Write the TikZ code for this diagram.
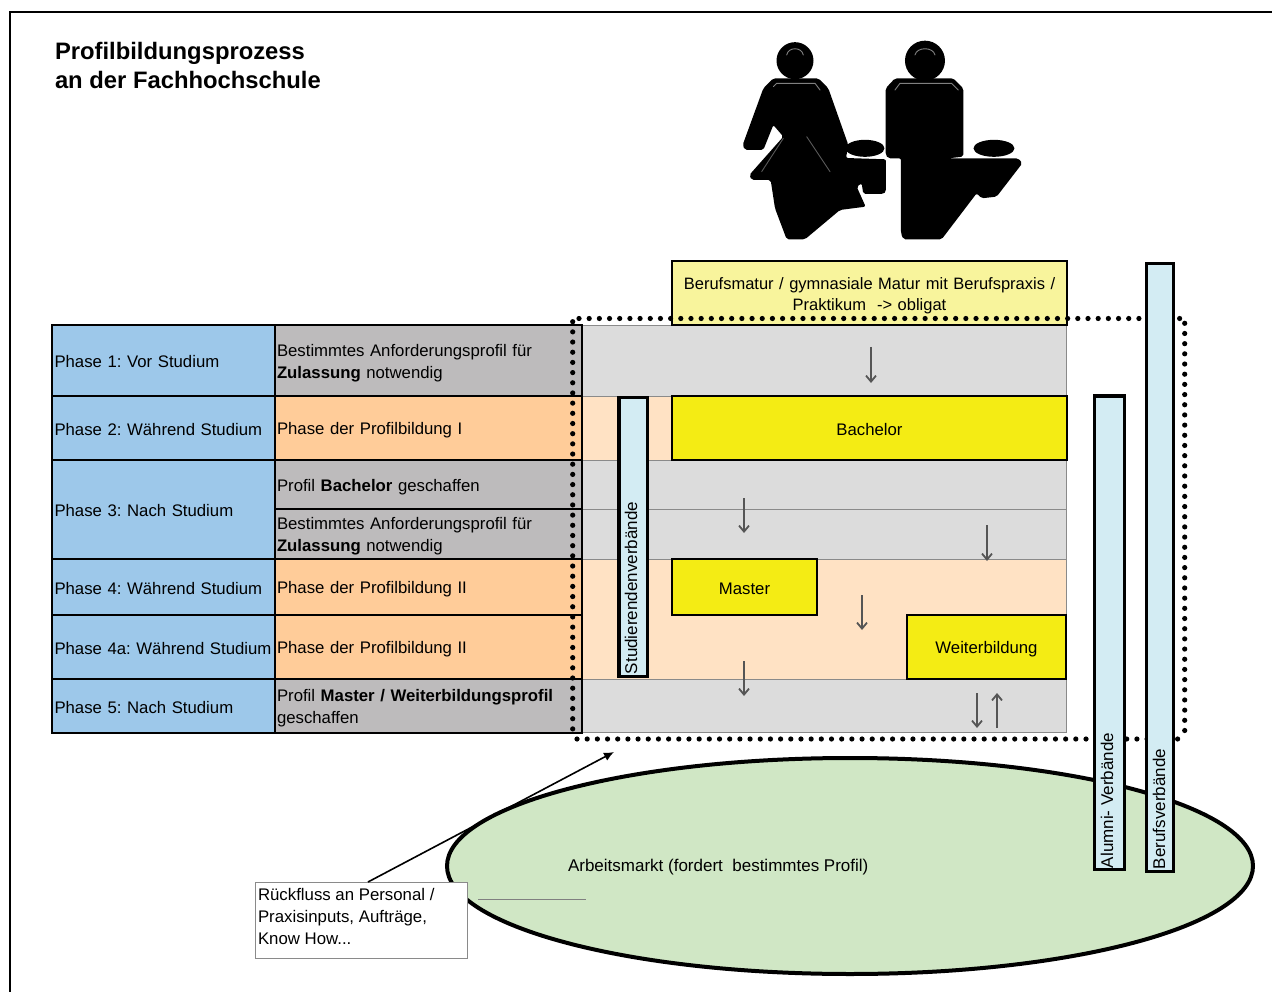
\documentclass[tikz,border=0pt]{standalone}
\usepackage{fontspec}
\setmainfont{Liberation Sans}
\usetikzlibrary{arrows.meta,shapes.geometric}
\definecolor{cblue}{HTML}{9DC8EA}
\definecolor{cgrey}{HTML}{BDBBBC}
\definecolor{corange}{HTML}{FFCC99}
\definecolor{cband}{HTML}{DCDCDC}
\definecolor{clight}{HTML}{FFE2C4}
\definecolor{cyellow}{HTML}{F4EC14}
\definecolor{cpale}{HTML}{F8F49C}
\definecolor{ccyan}{HTML}{D3ECF3}
\definecolor{cgreen}{HTML}{D0E7C5}
\definecolor{cedge}{HTML}{8A8A8A}
\definecolor{carrow}{HTML}{555555}
\frenchspacing
\newcommand{\topgap}{\rule{0pt}{17pt}}
\newcommand{\botgap}{\rule[-3pt]{0pt}{3pt}}
\tikzset{
  every node/.style={outer sep=0pt},
  cell/.style={draw=black,line width=2.2pt,anchor=north west,inner sep=2pt,align=left,font=\fontsize{16.75}{22}\selectfont,execute at begin node=\topgap,execute at end node=\botgap},
  band/.style={draw=cedge,line width=0.8pt,anchor=north west,inner sep=0pt},
  goal/.style={draw=black,line width=2.2pt,anchor=north west,fill=cyellow,inner sep=0pt,align=center,font=\fontsize{16.75}{22}\selectfont,execute at begin node=\topgap,execute at end node=\botgap},
  pillar/.style={draw=black,line width=3.2pt,anchor=north west,fill=ccyan,inner sep=0pt},
  vtext/.style={rotate=90,anchor=west,font=\fontsize{17}{20}\selectfont,inner sep=0pt},
  flow/.style={draw=carrow,line width=1.8pt,-{Straight Barb[length=6pt,width=10pt]}},
  ring/.style={line width=5.2pt,dash pattern=on 0pt off 10.18pt,line cap=round},
  sil/.style={fill=black,draw=none},
  gloss/.style={draw=gray,line width=0.9pt,line cap=round},
  softgloss/.style={draw=black!65,line width=0.9pt,line cap=round},
  bluecell/.style={cell,fill=cblue,minimum width=223pt,text width=218pt,inner xsep=2.5pt},
  textcell/.style={cell,minimum width=307pt,text width=303pt}
}
\begin{document}
\begin{tikzpicture}[x=1pt,y=-1pt]
\useasboundingbox (0,0) rectangle (1272,992);
\draw[line width=2.2pt] (1272,12) -- (10,12) -- (10,992);
\node[anchor=north west,inner sep=0pt,align=left,font=\bfseries\fontsize{23.8}{29}\selectfont] (title) at (55,42) {Profilbildungsprozess\\an der Fachhochschule};

% figures
\begin{scope}[shift={(720,30)},x=0.3333pt,y=-0.3333pt]
\fill[sil] (225,92) circle [radius=18.5pt];
\fill[sil] (615,92) circle [radius=20pt];
\fill[sil,rounded corners=2pt] (160,145)--(295,145)--(325,175)--(385,345)--(378,384)--(498,388)--(498,485)--(490,492)--(430,492)--(425,460)--(410,470)--(437,530)--(360,540)--(255,628)--(200,628)--(165,535)--(152,450)--(95,450)--(88,435)--(190,320)--(160,285)--(130,360)--(75,360)--(68,345)--(130,175)--cycle;
\fill[sil] (435,355) ellipse [x radius=19.5pt,y radius=8.5pt];
\fill[sil,rounded corners=2pt] (525,145)--(700,145)--(730,175)--(730,380)--(685,385)--(895,385)--(907,400)--(830,500)--(785,505)--(770,490)--(665,628)--(550,628)--(543,610)--(543,385)--(505,385)--(497,375)--(497,175)--cycle;
\fill[sil] (822,355) ellipse [x radius=20.5pt,y radius=8.5pt];
\draw[gloss] (200,75) .. controls (205,50) and (245,50) .. (250,75);
\draw[gloss] (585,75) .. controls (590,50) and (640,50) .. (645,75);
\draw[gloss] (160,170) -- (170,160) -- (285,160) -- (300,180);
\draw[gloss] (525,180) -- (540,160) -- (695,160) -- (715,180);
\draw[softgloss] (190,325) -- (125,425);
\draw[softgloss] (260,320) -- (330,425);
\end{scope}

% bands on the right
\node[band,fill=cband,minimum width=484pt,minimum height=71pt] (b1) at (582,325) {};
\node[band,fill=clight,minimum width=90pt,minimum height=64pt] (b2) at (582,396) {};
\node[band,fill=cband,minimum width=484pt,minimum height=49pt] (b3) at (582,460) {};
\node[band,fill=cband,minimum width=484pt,minimum height=50pt] (b3b) at (582,509) {};
\node[band,fill=clight,minimum width=484pt,minimum height=120pt] (b4) at (582,559) {};
\node[band,fill=cband,minimum width=484pt,minimum height=53pt] (b5) at (582,679) {};

% left table
\node[bluecell,minimum height=71pt] (p1) at (52,325) {Phase 1: Vor Studium};
\node[bluecell,minimum height=64pt] (p2) at (52,396) {Phase 2: Während Studium};
\node[bluecell,minimum height=99pt] (p3) at (52,460) {Phase 3: Nach Studium};
\node[bluecell,minimum height=56pt] (p4) at (52,559) {Phase 4: Während Studium};
\node[bluecell,minimum height=64pt] (p4a) at (52,615) {Phase 4a: Während Studium};
\node[bluecell,minimum height=54pt] (p5) at (52,679) {Phase 5: Nach Studium};
\node[textcell,fill=cgrey,minimum height=71pt] (d1) at (275,325) {Bestimmtes Anforderungsprofil für\\\textbf{Zulassung} notwendig};
\node[textcell,fill=corange,minimum height=64pt] (d2) at (275,396) {Phase der Profilbildung I};
\node[textcell,fill=cgrey,minimum height=49pt] (d3) at (275,460) {Profil \textbf{Bachelor} geschaffen};
\node[textcell,fill=cgrey,minimum height=50pt] (d3b) at (275,509) {Bestimmtes Anforderungsprofil für\\\textbf{Zulassung} notwendig};
\node[textcell,fill=corange,minimum height=56pt] (d4) at (275,559) {Phase der Profilbildung II};
\node[textcell,fill=corange,minimum height=64pt] (d4a) at (275,615) {Phase der Profilbildung II};
\node[textcell,fill=cgrey,minimum height=54pt] (d5) at (275,679) {Profil \textbf{Master / Weiterbildungsprofil}\\geschaffen};

% goal boxes
\node[goal,fill=cpale,minimum width=395pt,minimum height=64pt,text width=390pt,font=\fontsize{16.5}{21.5}\selectfont] (matur) at (672,261) {Berufsmatur / gymnasiale Matur mit Berufspraxis /\\Praktikum\ \ -> obligat};
\node[goal,minimum width=395pt,minimum height=64pt] (bachelor) at (672,396) {Bachelor};
\node[goal,minimum width=145pt,minimum height=56pt] (master) at (672,559) {Master};
\node[goal,minimum width=159pt,minimum height=64pt] (weiter) at (907,615) {Weiterbildung};

% ellipse
\node[ellipse,draw=black,line width=4pt,fill=cgreen,inner sep=0pt,minimum width=806pt,minimum height=216pt] (markt) at (850,866) {};
\node[font=\fontsize{17}{20}\selectfont,anchor=west,inner sep=0pt] (markttext) at (568,867) {Arbeitsmarkt (fordert\ \ bestimmtes Profil)};

% dotted frame
\coordinate (lt) at (572.7,321.7);
\coordinate (lb) at (572.7,735);
\coordinate (bl) at (577,739);
\coordinate (br) at (1181,739);
\coordinate (rb) at (1184.7,735);
\coordinate (rt) at (1184.7,323.3);
\coordinate (tl) at (579,318.5);
\coordinate (tr) at (1180,318.5);
\draw[ring] (lt) -- (lb);
\draw[ring] (bl) -- (br);
\draw[ring] (rt) -- (rb);
\draw[ring] (tl) -- (tr);

% pillars
\node[pillar,minimum width=28.7pt,minimum height=279pt] (stud) at (619,397.6) {};
\node[vtext] (studtext) at (631,674) {Studierendenverbände};
\node[pillar,minimum width=30pt,minimum height=473.5pt] (alumni) at (1094.3,396) {};
\node[vtext] (alumnitext) at (1107,868) {Alumni- Verbände};
\node[pillar,minimum width=26.8pt,minimum height=608pt] (beruf) at (1146.6,263.6) {};
\node[vtext] (beruftext) at (1159,869) {Berufsverbände};

% flow arrows
\coordinate (a1s) at (871,347); \coordinate (a1e) at (871,383);
\coordinate (a2s) at (744,498); \coordinate (a2e) at (744,533);
\coordinate (a3s) at (987,525); \coordinate (a3e) at (987,561);
\coordinate (a4s) at (862,595); \coordinate (a4e) at (862,630);
\coordinate (a5s) at (744,661); \coordinate (a5e) at (744,696);
\coordinate (a6s) at (977,693); \coordinate (a6e) at (977,728);
\coordinate (a7s) at (997,728); \coordinate (a7e) at (997,693);
\draw[flow] (a1s) -- (a1e);
\draw[flow] (a2s) -- (a2e);
\draw[flow] (a3s) -- (a3e);
\draw[flow] (a4s) -- (a4e);
\draw[flow] (a5s) -- (a5e);
\draw[flow] (a6s) -- (a6e);
\draw[flow] (a7s) -- (a7e);

% callout
\node[draw=cedge,line width=1pt,fill=white,anchor=north west,inner sep=3pt,font=\fontsize{16.8}{22}\selectfont] (call) at (255,882) {\parbox[c][70pt][t]{206pt}{\strut Rückfluss an Personal /\\Praxisinputs, Aufträge,\\Know How...}};
\coordinate (ct) at (614,752);
\coordinate (cs) at (368,882);
\draw[line width=1.6pt,-{Latex[length=10pt,width=9pt]}] (cs) -- (ct);
\coordinate (l1) at (478,899);
\coordinate (l2) at (586,899);
\draw[draw=gray,line width=1pt] (l1) -- (l2);
\end{tikzpicture}
\end{document}
